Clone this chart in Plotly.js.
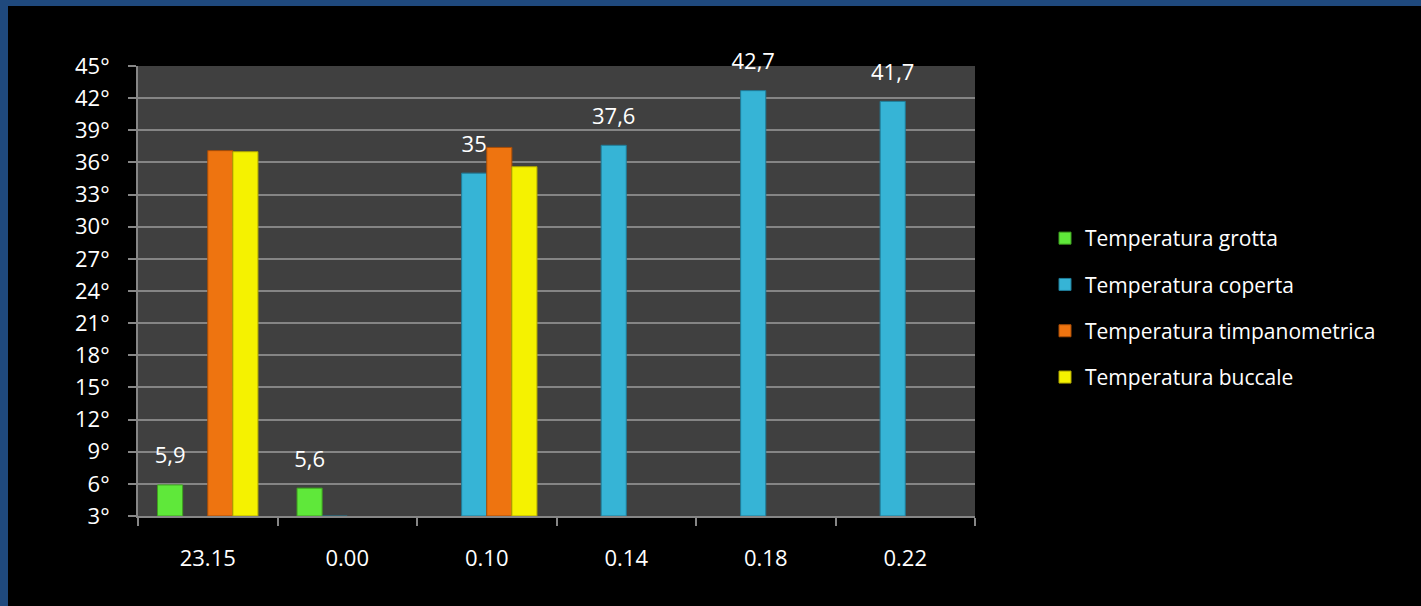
<!DOCTYPE html>
<html>
<head>
<meta charset="utf-8">
<script src="https://cdn.plot.ly/plotly-3.0.1.min.js"></script>
<style>
  html, body { margin: 0; padding: 0; background: #1f497d; width: 1421px; height: 606px; overflow: hidden; }
  #chart { position: absolute; left: 8px; top: 6px; width: 1413px; height: 600px; background: #000; }
</style>
</head>
<body>
<div id="chart"></div>
<script>
// ---- data ----
const categories = ["23.15", "0.00", "0.10", "0.14", "0.18", "0.22"];
const grotta        = [5.9, 5.6, null, null, null, null];
const coperta       = [null, 2.8, 35, 37.6, 42.7, 41.7];
const timpanometrica = [37.1, null, 37.4, null, null, null];
const buccale       = [37.0, null, 35.6, null, null, null];
const seriesNames = ["Temperatura grotta", "Temperatura coperta", "Temperatura timpanometrica", "Temperatura buccale"];
const showLabels = [true, true, false, false];
const yTicks = [3, 6, 9, 12, 15, 18, 21, 24, 27, 30, 33, 36, 39, 42, 45];
const axisMin = 3;

const colors = ["#5fe83a", "#36b4d6", "#ee7410", "#f5f200"];
const edges  = ["#3fa020", "#1f7c98", "#a84c06", "#b0a800"];
const FONT = "Open Sans, Noto Sans, sans-serif";

const allSeries = [grotta, coperta, timpanometrica, buccale];
const barTraces = allSeries.map((vals, i) => ({
  type: "bar",
  name: seriesNames[i],
  legendgroup: "g" + i,
  offsetgroup: "o" + i,
  x: categories,
  y: vals.map(v => v == null ? null : v - axisMin),
  base: axisMin,
  cliponaxis: false,
  marker: { color: colors[i], line: { color: edges[i], width: 1 } },
  hoverinfo: "skip"
}));

// data labels (drawn as text on the same grouped positions)
const labelTraces = allSeries.map((vals, i) => ({
  type: "scatter",
  mode: "markers+text",
  showlegend: false,
  offsetgroup: "o" + i,
  x: categories,
  y: vals.map(v => (showLabels[i] && v != null && v >= axisMin) ? v : null),
  text: vals.map(v => (showLabels[i] && v != null && v >= axisMin) ? String(v).replace(".", ",") : ""),
  textposition: "top center",
  cliponaxis: false,
  textfont: { color: "#ffffff", size: 22, family: FONT },
  marker: { size: 24, opacity: 0 },
  hoverinfo: "skip"
}));

const layout = {
  width: 1413, height: 600,
  paper_bgcolor: "#000000",
  plot_bgcolor: "#404040",
  margin: { l: 130, r: 446, t: 60, b: 90 },
  barmode: "group",
  bargap: 0.28,
  bargroupgap: 0,
  scattermode: "group",
  scattergap: 0.28,
  font: { family: FONT, color: "#ffffff", size: 22 },
  showlegend: true,
  legend: {
    xref: "container", yref: "container",
    x: 1037 / 1413, xanchor: "left",
    y: 1 - 212 / 600, yanchor: "top",
    bgcolor: "rgba(0,0,0,0)",
    font: { family: FONT, color: "#ffffff", size: 21 },
    traceorder: "grouped",
    tracegroupgap: 16
  },
  xaxis: {
    type: "category",
    categoryorder: "array", categoryarray: categories,
    showgrid: false,
    showline: true, linecolor: "#868686", linewidth: 2,
    ticks: "outside", tickson: "boundaries", ticklen: 8, tickcolor: "#868686", tickwidth: 2,
    ticklabelstandoff: 22,
    tickfont: { family: FONT, color: "#ffffff", size: 22 },
    zeroline: false
  },
  yaxis: {
    range: [3, 45],
    tickmode: "array",
    tickvals: yTicks,
    ticktext: yTicks.map(t => t + "°"),
    showgrid: true, gridcolor: "#858585", gridwidth: 2,
    showline: true, linecolor: "#868686", linewidth: 2,
    ticks: "outside", ticklen: 8, tickcolor: "#868686", tickwidth: 2,
    ticklabelstandoff: 14,
    tickfont: { family: FONT, color: "#ffffff", size: 22 },
    zeroline: false
  }
};

Plotly.newPlot("chart", barTraces.concat(labelTraces), layout, { displayModeBar: false, staticPlot: true });
</script>
</body>
</html>
